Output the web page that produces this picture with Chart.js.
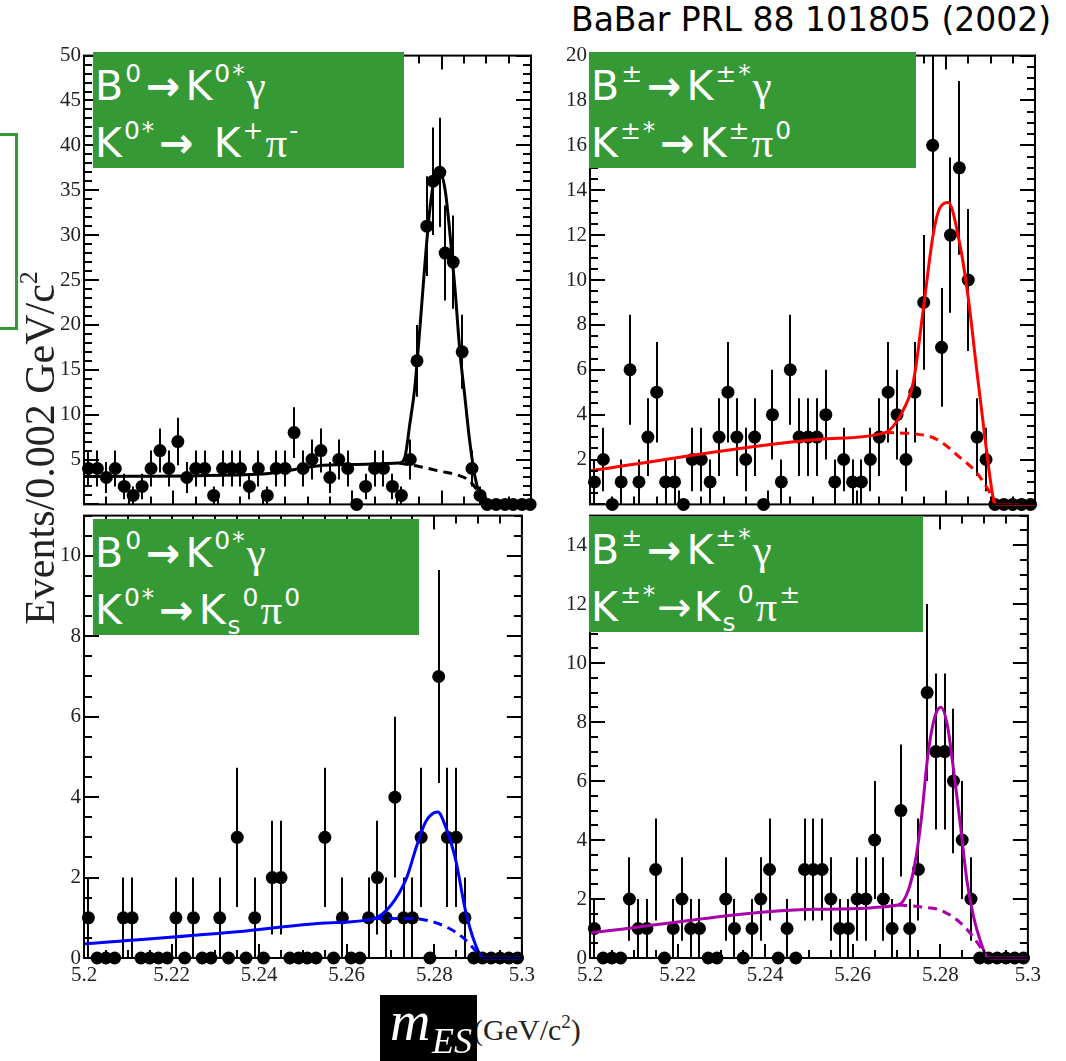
<!DOCTYPE html>
<html>
<head>
<meta charset="utf-8">
<script src="https://cdn.jsdelivr.net/npm/chart.js@4.4.1/dist/chart.umd.min.js"></script>
<style>
  body { margin: 0; width: 1066px; height: 1061px; background: #fff; position: relative; overflow: hidden; }
  canvas { position: absolute; }
  .box { position: absolute; background: #359a35; color: #fff; overflow: hidden; font-family: "DejaVu Sans", sans-serif; font-size: 41px; }
  .box div { position: absolute; left: 2px; white-space: nowrap; line-height: 44px; letter-spacing: 2px; }
  .sp { font-size: 25px; position: relative; top: -18px; }
  .sb { font-size: 25px; position: relative; top: 10px; }
  .gr { font-family: "Liberation Serif", serif; font-size: 43px; }
  .ar { font-weight: bold; margin: 0 3px; }
  .txt { position: absolute; white-space: nowrap; }
</style>
</head>
<body>
<canvas id="tl" width="500" height="480" style="left:40px;top:40px"></canvas>
<canvas id="tr" width="500" height="480" style="left:546px;top:40px"></canvas>
<canvas id="bl" width="500" height="500" style="left:40px;top:500px"></canvas>
<canvas id="br" width="500" height="500" style="left:546px;top:500px"></canvas>

<div class="txt" style="left:571px;top:0px;font-family:'DejaVu Sans';font-size:33px;line-height:40px;color:#000">BaBar PRL 88 101805 (2002)</div>

<div style="position:absolute;left:-10px;top:133px;width:22px;height:191px;border:3px solid #359a35"></div>

<div class="txt" style="left:-160px;top:426px;width:400px;height:44px;line-height:44px;text-align:center;transform:rotate(-90deg);font-family:'Liberation Serif';font-size:42px;color:#222">Events/0.002 GeV/c<span style="font-size:26px;position:relative;top:-17px">2</span></div>

<div class="txt" style="left:473px;top:1010px;font-family:'Liberation Serif';font-size:30px;line-height:40px;color:#222">(GeV/c<span style="font-size:19px;position:relative;top:-12px">2</span>)</div>
<div style="position:absolute;left:380px;top:995px;width:97px;height:66px;background:#000;color:#fff;font-family:'Liberation Serif';font-style:italic">
  <span style="position:absolute;left:10px;top:-2px;font-size:56px;line-height:56px">m</span>
  <span style="position:absolute;left:52px;top:28px;font-size:36px;line-height:36px">ES</span>
</div>

<div class="box" style="left:93px;top:52px;width:311px;height:116px">
  <div style="top:12px">B<span class="sp">0</span><span class="ar">→</span>K<span class="sp">0*</span><span class="gr">γ</span></div>
  <div style="top:69px">K<span class="sp">0*</span><span class="ar">→</span> K<span class="sp">+</span><span class="gr">π</span><span class="sp">-</span></div>
</div>
<div class="box" style="left:589px;top:52px;width:327px;height:116px">
  <div style="top:12px">B<span class="sp">±</span><span class="ar">→</span>K<span class="sp">±*</span><span class="gr">γ</span></div>
  <div style="top:69px">K<span class="sp">±*</span><span class="ar">→</span>K<span class="sp">±</span><span class="gr">π</span><span class="sp">0</span></div>
</div>
<div class="box" style="left:93px;top:519px;width:326px;height:116px">
  <div style="top:12px">B<span class="sp">0</span><span class="ar">→</span>K<span class="sp">0*</span><span class="gr">γ</span></div>
  <div style="top:69px">K<span class="sp">0*</span><span class="ar">→</span>K<span class="sb">s</span><span class="sp">0</span><span class="gr">π</span><span class="sp">0</span></div>
</div>
<div class="box" style="left:589px;top:516px;width:334px;height:116px">
  <div style="top:12px">B<span class="sp">±</span><span class="ar">→</span>K<span class="sp">±*</span><span class="gr">γ</span></div>
  <div style="top:69px">K<span class="sp">±*</span>→K<span class="sb">s</span><span class="sp">0</span><span class="gr">π</span><span class="sp">±</span></div>
</div>

<script>
// bin centres, 0.002 GeV/c^2 bins
const binCenters = [5.201, 5.203, 5.205, 5.207, 5.209, 5.211, 5.213, 5.215, 5.217, 5.219,
  5.221, 5.223, 5.225, 5.227, 5.229, 5.231, 5.233, 5.235, 5.237, 5.239,
  5.241, 5.243, 5.245, 5.247, 5.249, 5.251, 5.253, 5.255, 5.257, 5.259,
  5.261, 5.263, 5.265, 5.267, 5.269, 5.271, 5.273, 5.275, 5.277, 5.279,
  5.281, 5.283, 5.285, 5.287, 5.289, 5.291, 5.293, 5.295, 5.297, 5.299];

// K+ pi- : points (peak region is denser)
const kpiX = [5.201, 5.203, 5.205, 5.207, 5.209, 5.211, 5.213, 5.215, 5.217, 5.219,
  5.221, 5.223, 5.225, 5.227, 5.229, 5.231, 5.233, 5.235, 5.237, 5.239,
  5.241, 5.243, 5.245, 5.247, 5.249, 5.251, 5.253, 5.255, 5.257, 5.259,
  5.261, 5.263, 5.265, 5.267, 5.269, 5.271, 5.273,
  5.2745, 5.2767, 5.2781, 5.2796, 5.2808, 5.2826, 5.2846, 5.2868, 5.2886,
  5.2902, 5.2922, 5.2942, 5.296, 5.298, 5.2998];
const kpiN = [4, 4, 3, 4, 2, 1, 2, 4, 6, 4, 7, 3, 4, 4, 1, 4, 4, 4, 2, 4,
  1, 4, 4, 8, 4, 5, 6, 3, 5, 4, 0, 2, 4, 4, 2, 1, 5,
  16, 31, 36, 37, 28, 27, 17, 4, 1, 0, 0, 0, 0, 0, 0];
const kpiFitX = [5.200, 5.240, 5.255, 5.2705, 5.2718, 5.2729, 5.2740, 5.2752, 5.2763, 5.2774, 5.2785,
  5.2796, 5.2808, 5.2819, 5.2830, 5.2841, 5.2852, 5.2863, 5.2875, 5.2886, 5.2897, 5.300];
const kpiFitY = [3.1, 3.4, 4.4, 4.6, 5.3, 9, 13, 20, 27, 33, 36.5, 37, 35, 30, 24, 17, 12, 7, 3, 1, 0, 0];
const kpiBkgX = [5.2705, 5.2752, 5.2796, 5.2834, 5.2863, 5.2879, 5.2897];
const kpiBkgY = [4.6, 4.2, 3.7, 3.3, 2.6, 1.6, 0];

// K+- pi0
const kpi0N = [1, 2, 0, 1, 6, 1, 3, 5, 1, 1, 0, 2, 2, 1, 3, 5, 3, 2, 3, 0,
  4, 1, 6, 3, 3, 3, 4, 1, 2, 1, 1, 2, 3, 5, 4, 2, 5, 9, 16, 7,
  12, 15, 10, 3, 2, 0, 0, 0, 0, 0];
const kpi0FitX = [5.200, 5.2517, 5.2663, 5.2682, 5.2704, 5.2727, 5.2749, 5.2771, 5.2786, 5.2805,
  5.2831, 5.2850, 5.2869, 5.2888, 5.2906, 5.2914, 5.300];
const kpi0FitY = [1.5, 2.9, 3.2, 3.5, 4.2, 5.5, 8.7, 12, 13.2, 13.45, 11.6, 9.2, 6, 2.9, 0.3, 0, 0];
const kpi0BkgX = [5.2663, 5.2727, 5.2779, 5.2831, 5.2869, 5.2899, 5.2910];
const kpi0BkgY = [3.2, 3.15, 2.9, 2.1, 1.4, 0.5, 0];

// Ks pi0
const kspi0N = [1, 0, 0, 0, 1, 1, 0, 0, 0, 0, 1, 0, 1, 0, 0, 1, 0, 3, 0, 1,
  0, 2, 2, 0, 0, 0, 0, 3, 0, 1, 0, 0, 1, 2, 1, 4, 1, 1, 3, 0,
  7, 3, 3, 1, 0, 0, 0, 0, 0, 0];
const kspi0FitX = [5.200, 5.235, 5.255, 5.2662, 5.2700, 5.2737, 5.2759, 5.2781, 5.2808, 5.2826, 5.2849,
  5.2871, 5.2893, 5.2912, 5.300];
const kspi0FitY = [0.35, 0.65, 0.87, 0.98, 1.3, 2.0, 2.76, 3.4, 3.63, 3.26, 2.43, 1.19, 0.36, 0, 0];
const kspi0BkgX = [5.2662, 5.2737, 5.2781, 5.2826, 5.2863, 5.2893, 5.2908];
const kspi0BkgY = [0.98, 0.98, 0.94, 0.78, 0.53, 0.2, 0];

// Ks pi+-
const kspiN = [1, 0, 0, 0, 2, 1, 1, 3, 0, 1, 2, 1, 1, 0, 0, 2, 1, 0, 1, 2,
  3, 0, 1, 0, 3, 3, 3, 2, 1, 1, 2, 2, 4, 2, 1, 5, 1, 3, 9, 7,
  7, 6, 4, 2, 0, 0, 0, 0, 0, 0];
const kspiFitX = [5.200, 5.2517, 5.2704, 5.2727, 5.2742, 5.2757, 5.2771, 5.2786, 5.2801, 5.2816,
  5.2831, 5.2846, 5.2861, 5.2876, 5.2891, 5.2906, 5.2914, 5.300];
const kspiFitY = [0.85, 1.65, 1.8, 2.3, 3.2, 4.76, 6.8, 8.1, 8.5, 7.9, 6.3, 4.5, 2.6, 1.4, 0.6, 0.05, 0, 0];
const kspiBkgX = [5.2704, 5.2757, 5.2801, 5.2839, 5.2869, 5.2891, 5.2906];
const kspiBkgY = [1.8, 1.73, 1.62, 1.28, 0.83, 0.38, 0];

const xTicks = [5.2, 5.22, 5.24, 5.26, 5.28, 5.3];

const zip = (xs, ys) => xs.map((x, i) => ({ x: x, y: ys[i] }));

// vertical sqrt(N) error bars under the points
const errorBars = {
  id: 'errorBars',
  beforeDatasetsDraw(chart) {
    const { ctx, scales: { x, y } } = chart;
    ctx.save();
    ctx.strokeStyle = '#000';
    ctx.lineWidth = 2;
    chart.data.datasets[2].data.forEach(p => {
      if (p.y <= 0) return;
      const e = Math.sqrt(p.y);
      const px = Math.round(x.getPixelForValue(p.x));
      ctx.beginPath();
      ctx.moveTo(px, y.getPixelForValue(p.y - e));
      ctx.lineTo(px, y.getPixelForValue(Math.min(p.y + e, y.max)));
      ctx.stroke();
    });
    ctx.restore();
  }
};

// frame with inward ticks on all four sides
const frameTicks = {
  id: 'frameTicks',
  afterDraw(chart, args, o) {
    const { ctx, chartArea: a, scales: { x, y } } = chart;
    ctx.save();
    ctx.strokeStyle = '#000';
    ctx.lineWidth = 2;
    const n = Math.round((x.max - x.min) / 0.005);
    for (let i = 0; i <= n; i++) {
      const v = x.min + i * 0.005;
      const len = (i % 4 === 0) ? 14 : 8;
      const px = Math.round(x.getPixelForValue(v));
      ctx.beginPath();
      ctx.moveTo(px, a.bottom); ctx.lineTo(px, a.bottom - len);
      ctx.moveTo(px, a.top); ctx.lineTo(px, a.top + len);
      ctx.stroke();
    }
    const m = Math.round((y.max - y.min) / o.yMinor);
    for (let i = 0; i <= m; i++) {
      const v = y.min + i * o.yMinor;
      const r = v / o.yMajor;
      const len = Math.abs(r - Math.round(r)) < 1e-6 ? 15 : 8;
      const py = Math.round(y.getPixelForValue(v));
      ctx.beginPath();
      ctx.moveTo(a.left, py); ctx.lineTo(a.left + len, py);
      ctx.moveTo(a.right, py); ctx.lineTo(a.right - len, py);
      ctx.stroke();
    }
    ctx.strokeRect(a.left, a.top, a.right - a.left, a.bottom - a.top);
    ctx.restore();
  }
};

const tickFont = { family: 'Liberation Serif', size: 21 };

function makePanel(id, pts, fit, bkg, color, yMax, yStep, yMinor, hideZero, showX, pad) {
  return new Chart(document.getElementById(id), {
    type: 'scatter',
    data: {
      datasets: [
        { type: 'line', data: fit, borderColor: color, borderWidth: 3, pointRadius: 0,
          cubicInterpolationMode: 'monotone', fill: false, clip: false },
        { type: 'line', data: bkg, borderColor: color, borderWidth: 3, borderDash: [9, 6],
          pointRadius: 0, cubicInterpolationMode: 'monotone', fill: false, clip: false },
        { data: pts, backgroundColor: '#000', borderColor: '#000', pointRadius: 6.5,
          pointBorderWidth: 0, clip: false }
      ]
    },
    options: {
      responsive: false,
      animation: false,
      events: [],
      layout: { padding: pad },
      plugins: { legend: { display: false }, tooltip: { enabled: false },
                 frameTicks: { yMinor: yMinor, yMajor: yStep } },
      scales: {
        x: {
          type: 'linear', min: 5.2, max: 5.3,
          grid: { display: false, drawTicks: false },
          border: { display: false },
          afterBuildTicks: s => { s.ticks = xTicks.map(v => ({ value: v })); },
          afterFit: s => { s.height = showX ? 42 : 7; },
          ticks: { display: showX, autoSkip: false, maxRotation: 0, padding: 5,
                   font: tickFont, color: '#222',
                   callback: v => String(Number(v.toFixed(2))) }
        },
        y: {
          min: 0, max: yMax,
          grid: { display: false, drawTicks: false },
          border: { display: false },
          afterFit: s => { s.width = 44; },
          ticks: { stepSize: yStep, includeBounds: false, padding: 3, font: tickFont, color: '#222',
                   callback: v => (hideZero && v === 0) ? '' : String(v) }
        }
      }
    },
    plugins: [errorBars, frameTicks]
  });
}

makePanel('tl', zip(kpiX, kpiN), zip(kpiFitX, kpiFitY), zip(kpiBkgX, kpiBkgY),
  '#000', 50, 5, 1, true, false, { left: 0, right: 9, top: 12, bottom: 0 });
makePanel('tr', zip(binCenters, kpi0N), zip(kpi0FitX, kpi0FitY), zip(kpi0BkgX, kpi0BkgY),
  '#ff0000', 20, 2, 0.5, true, false, { left: 0, right: 11, top: 12, bottom: 0 });
makePanel('bl', zip(binCenters, kspi0N), zip(kspi0FitX, kspi0FitY), zip(kspi0BkgX, kspi0BkgY),
  '#0000ff', 11, 2, 0.5, false, true, { left: 0, right: 9, top: 14, bottom: 0 });
makePanel('br', zip(binCenters, kspiN), zip(kspiFitX, kspiFitY), zip(kspiBkgX, kspiBkgY),
  '#aa00aa', 15, 2, 0.5, false, true, { left: 0, right: 11, top: 14, bottom: 0 });
</script>
</body>
</html>
